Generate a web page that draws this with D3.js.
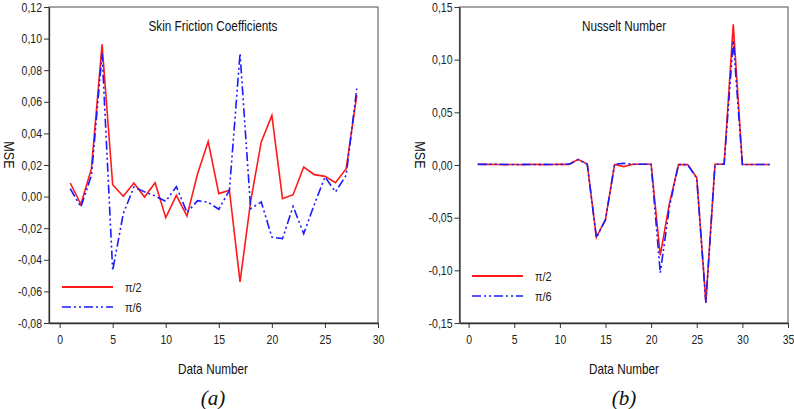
<!DOCTYPE html>
<html>
<head>
<meta charset="utf-8">
<script src="https://cdn.jsdelivr.net/npm/d3@7"></script>
<style>
  html, body { margin: 0; padding: 0; background: #fff; }
  svg { display: block; }
</style>
</head>
<body>
<svg id="chart" width="794" height="409"></svg>
<script>
// ---------- Data ----------
const sfX = d3.range(1, 29);
const sfPi2 = [0.0086, -0.0049, 0.0177, 0.0964, 0.0075, 0.0002, 0.0086, -0.0003, 0.0088, -0.0133,
               0.0008, -0.0123, 0.0145, 0.0348, 0.0019, 0.0040, -0.0540, -0.0030, 0.0346, 0.0514,
               -0.0013, 0.0012, 0.0187, 0.0139, 0.0128, 0.0088, 0.0177, 0.0641];
const sfPi6 = [0.0050, -0.0066, 0.0135, 0.0905, -0.0467, -0.0108, 0.0061, 0.0030, 0.0004, -0.0030,
               0.0063, -0.0100, -0.0026, -0.0036, -0.0080, 0.0040, 0.0905, -0.0076, -0.0034, -0.0256,
               -0.0266, -0.0062, -0.0235, -0.0050, 0.0124, 0.0030, 0.0135, 0.0683];
const nuX = d3.range(1, 34);
const nuPi2 = [0.0006, 0.0007, 0.0005, 0.0004, 0.0005, 0.0003, 0.0007, 0.0004, 0.0005, 0.0006,
               0.0006, 0.0054, 0.0010, -0.0686, -0.0515, 0.0005, -0.0015, 0.0007, 0.0007, 0.0007,
               -0.0857, -0.0367, 0.0004, 0.0004, -0.0120, -0.1300, 0.0007, 0.0007, 0.1335, 0.0005,
               0.0005, 0.0005, 0.0005];
const nuPi6 = [0.0007, 0.0006, 0.0008, 0.0005, 0.0004, 0.0006, 0.0005, 0.0006, 0.0005, 0.0006,
               0.0007, 0.0050, 0.0008, -0.0690, -0.0520, 0.0008, 0.0015, 0.0007, 0.0007, 0.0007,
               -0.1025, -0.0400, 0.0004, 0.0004, -0.0125, -0.1310, 0.0007, 0.0007, 0.1180, 0.0005,
               0.0005, 0.0005, 0.0005];
const sfYTicks = [-0.08, -0.06, -0.04, -0.02, 0.00, 0.02, 0.04, 0.06, 0.08, 0.10, 0.12];
const sfXTicks = [0, 5, 10, 15, 20, 25, 30];
const nuYTicks = [-0.15, -0.10, -0.05, 0.00, 0.05, 0.10, 0.15];
const nuXTicks = [0, 5, 10, 15, 20, 25, 30, 35];
const seriesNames = ["\u03c0/2", "\u03c0/6"];
const titles = ["Skin Friction Coefficients", "Nusselt Number"];
const panelLabels = ["(a)", "(b)"];
const xLabel = "Data Number";
const yLabel = "MSE";

// ---------- Drawing ----------
const svg = d3.select("#chart");
const FONT = "'Liberation Sans', Arial, sans-serif";
const K = 0.84; // horizontal condensing to mimic Arial Narrow
const fmt = v => d3.format(".2f")(v).replace(".", ",").replace("\u2212", "-");

function ctext(g, x, y, str, size, anchor, extra) {
  return g.append("text")
    .attr("transform", `translate(${x},${y}) ${extra || ""} scale(${K},1)`)
    .attr("text-anchor", anchor || "start")
    .attr("font-family", FONT).attr("font-size", size).attr("fill", "#111")
    .text(str);
}

const panels = [
  { x0: 49, x1: 378, xDom: [-1, 30], yDom: [-0.08, 0.12], xs: sfX, a: sfPi2, b: sfPi6,
    yT: sfYTicks, xT: sfXTicks, title: titles[0], lab: panelLabels[0], cx: 213,
    leg: { x: 62, y: 287 } },
  { x0: 459.5, x1: 788, xDom: [-1, 35], yDom: [-0.15, 0.15], xs: nuX, a: nuPi2, b: nuPi6,
    yT: nuYTicks, xT: nuXTicks, title: titles[1], lab: panelLabels[1], cx: 624,
    leg: { x: 472, y: 276 } }
];

const plotTop = 7, plotBottom = 323;

panels.forEach(p => {
  const x = d3.scaleLinear().domain(p.xDom).range([p.x0, p.x1]);
  const y = d3.scaleLinear().domain(p.yDom).range([plotBottom, plotTop]);
  const g = svg.append("g");

  // frame (top and right)
  g.append("rect").attr("x", p.x0).attr("y", plotTop)
    .attr("width", p.x1 - p.x0).attr("height", plotBottom - plotTop)
    .attr("fill", "none").attr("stroke", "#6a6a6a").attr("stroke-width", 1.2);

  // axes
  const yAxis = d3.axisLeft(y).tickValues(p.yT).tickFormat(fmt).tickSize(5).tickSizeOuter(0);
  const gy = g.append("g").attr("transform", `translate(${p.x0},0)`).call(yAxis);
  const xAxis = d3.axisBottom(x).tickValues(p.xT).tickFormat(d3.format("d")).tickSize(5).tickSizeOuter(0);
  const gx = g.append("g").attr("transform", `translate(0,${plotBottom})`).call(xAxis);
  [gy, gx].forEach(ax => {
    ax.select(".domain").attr("stroke", "#333").attr("stroke-width", 1.3);
    ax.selectAll(".tick line").attr("stroke", "#333").attr("stroke-width", 1);
    ax.selectAll(".tick text").attr("font-family", FONT).attr("font-size", 12.5).attr("fill", "#222")
      .attr("transform", `scale(${K},1)`);
  });
  gy.selectAll(".tick text").attr("x", -7 / K);
  gx.selectAll(".tick text").attr("y", 12);

  // lines
  const line = d3.line().x((d, i) => x(p.xs[i])).y(d => y(d));
  g.append("path").datum(p.a).attr("d", line)
    .attr("fill", "none").attr("stroke", "#ff1a1a").attr("stroke-width", 1.6)
    .attr("stroke-linejoin", "miter");
  g.append("path").datum(p.b).attr("d", line)
    .attr("fill", "none").attr("stroke", "#1a1aff").attr("stroke-width", 1.6)
    .attr("stroke-dasharray", "9,3,2,3,2,3");

  // title
  ctext(g, p.cx, 31, p.title, 14, "middle");

  // legend
  g.append("line").attr("x1", p.leg.x).attr("x2", p.leg.x + 51)
    .attr("y1", p.leg.y).attr("y2", p.leg.y)
    .attr("stroke", "#ff1a1a").attr("stroke-width", 1.8);
  g.append("line").attr("x1", p.leg.x).attr("x2", p.leg.x + 51)
    .attr("y1", p.leg.y + 20).attr("y2", p.leg.y + 20)
    .attr("stroke", "#1a1aff").attr("stroke-width", 1.6).attr("stroke-dasharray", "9,3,2,3,2,3");
  seriesNames.forEach((n, i) => {
    ctext(g, p.leg.x + 63, p.leg.y + 20 * i + 4.5, n, 13, "start").attr("fill", "#222");
  });

  // axis titles
  ctext(g, p.cx, 374, xLabel, 14, "middle");
  ctext(g, p.x0 - 45, 155, yLabel, 15, "middle", "rotate(90)");

  // panel label
  g.append("text").attr("x", p.cx).attr("y", 405).attr("text-anchor", "middle")
    .attr("font-family", "'Liberation Serif', 'DejaVu Serif', serif").attr("font-style", "italic")
    .attr("font-size", 21).attr("fill", "#111").text(p.lab);
});
</script>
</body>
</html>
